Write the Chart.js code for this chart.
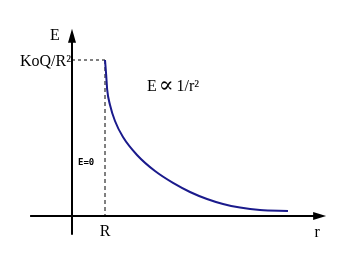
<!DOCTYPE html>
<html>
<head>
<meta charset="utf-8">
<script src="https://cdn.jsdelivr.net/npm/chart.js@4"></script>
<style>
  html, body { margin: 0; padding: 0; background: #fff; }
  #chart { display: block; }
</style>
</head>
<body>
<canvas id="chart" width="341" height="264"></canvas>
<script>
// curve E(r) outside the sphere, r in units of R, E in units of KoQ/R^2
const radii = [1.0, 1.036, 1.067, 1.152, 1.303, 1.545, 1.97, 2.515, 3.061, 3.576, 4.091, 4.576, 5.091, 5.697, 6.545];
const fieldValues = [1.0, 0.904, 0.808, 0.712, 0.609, 0.506, 0.391, 0.288, 0.212, 0.154, 0.109, 0.077, 0.054, 0.038, 0.032];

const xAxisEnds = [-1.27, 7.7];
const yAxisEnds = [-0.12, 1.2];
const sphereRadius = 1;
const surfaceField = 1;

const curvePoints = radii.map((r, i) => ({ x: r, y: fieldValues[i] }));

const serif = "'Liberation Serif', 'DejaVu Serif', serif";

// axes with arrow heads and the text labels
const sketchPlugin = {
  id: "sketch",
  beforeDatasetsDraw(chart) {
    const ctx = chart.ctx;
    const xs = chart.scales.x, ys = chart.scales.y;
    const x0 = xs.getPixelForValue(0), y0 = ys.getPixelForValue(0);
    ctx.save();
    ctx.strokeStyle = "#000";
    ctx.fillStyle = "#000";
    ctx.lineWidth = 2;
    // x axis
    const xl = xs.getPixelForValue(xAxisEnds[0]), xr = xs.getPixelForValue(xAxisEnds[1]);
    ctx.beginPath(); ctx.moveTo(xl, y0); ctx.lineTo(xr - 6, y0); ctx.stroke();
    ctx.beginPath(); ctx.moveTo(xr, y0); ctx.lineTo(xr - 13, y0 - 4); ctx.lineTo(xr - 13, y0 + 4); ctx.closePath(); ctx.fill();
    // y axis
    const yb = ys.getPixelForValue(yAxisEnds[0]), yt = ys.getPixelForValue(yAxisEnds[1]);
    ctx.beginPath(); ctx.moveTo(x0, yb); ctx.lineTo(x0, yt + 6); ctx.stroke();
    ctx.beginPath(); ctx.moveTo(x0, yt); ctx.lineTo(x0 - 4, yt + 14); ctx.lineTo(x0 + 4, yt + 14); ctx.closePath(); ctx.fill();

    const xR = xs.getPixelForValue(sphereRadius), yK = ys.getPixelForValue(surfaceField);
    ctx.textBaseline = "alphabetic";
    ctx.font = "16px " + serif;
    ctx.textAlign = "center";
    ctx.fillText("E", x0 - 17, yt + 11);
    ctx.fillText("R", xR, y0 + 20);
    ctx.fillText("r", xr - 9, y0 + 21);
    ctx.textAlign = "right";
    ctx.fillText("KoQ/R²", x0 - 1, yK + 6);

    // E ∝ 1/r² with a wider proportional sign
    ctx.textAlign = "left";
    let tx = xs.getPixelForValue(2.27);
    const ty = ys.getPixelForValue(0.8);
    ctx.fillText("E", tx, ty);
    tx += ctx.measureText("E").width + 2;
    ctx.font = "22px " + serif;
    ctx.fillText("∝", tx, ty + 1);
    tx += ctx.measureText("∝").width + 3;
    ctx.font = "16px " + serif;
    ctx.fillText("1/r²", tx, ty);

    ctx.font = "bold 9px 'DejaVu Sans Mono', monospace";
    ctx.fillText("E=0", x0 + 6, ys.getPixelForValue(0.33));
    ctx.restore();
  }
};

new Chart(document.getElementById("chart"), {
  type: "scatter",
  data: {
    datasets: [
      {
        data: curvePoints,
        showLine: true,
        borderColor: "#1a1a8c",
        borderWidth: 2,
        pointRadius: 0,
        cubicInterpolationMode: "monotone"
      },
      {
        data: [{ x: 0, y: surfaceField }, { x: sphereRadius, y: surfaceField }],
        showLine: true,
        borderColor: "#000",
        borderWidth: 1,
        borderDash: [3, 3],
        pointRadius: 0
      },
      {
        data: [{ x: sphereRadius, y: surfaceField }, { x: sphereRadius, y: 0 }],
        showLine: true,
        borderColor: "#000",
        borderWidth: 1,
        borderDash: [4, 3],
        pointRadius: 0
      }
    ]
  },
  options: {
    responsive: false,
    animation: false,
    layout: { padding: 0 },
    plugins: { legend: { display: false }, tooltip: { enabled: false } },
    scales: {
      x: { type: "linear", display: false, min: -72 / 33, max: 269 / 33 },
      y: { type: "linear", display: false, min: -48 / 156, max: 216 / 156 }
    }
  },
  plugins: [sketchPlugin]
});
</script>
</body>
</html>
